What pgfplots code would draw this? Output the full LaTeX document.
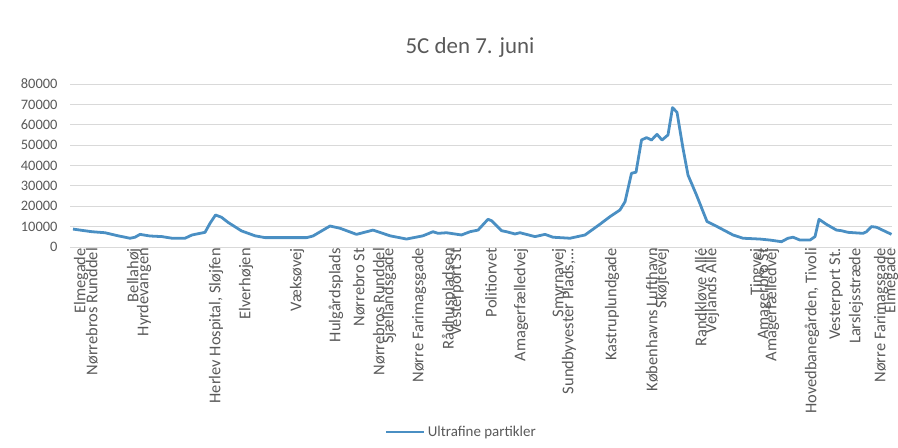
\documentclass[border=0pt]{standalone}
\usepackage{pgfplots}
\pgfplotsset{compat=1.18}
\usepackage{fontspec}
\setmainfont{Carlito}
\definecolor{linec}{HTML}{4A8FC3}
\definecolor{txt}{HTML}{595959}
\definecolor{gridc}{HTML}{D9D9D9}
\begin{document}
\begin{tikzpicture}
\path[use as bounding box] (0,0) rectangle (898bp,448bp);
\begin{axis}[
  at={(70bp,201bp)}, anchor=south west,
  scale only axis, width=822bp, height=163bp,
  xmin=70, xmax=892, ymin=0, ymax=80000,
  ytick={0,10000,20000,30000,40000,50000,60000,70000,80000},
  ymajorgrids, grid style={gridc, line width=0.8pt},
  axis line style={draw=none},
  major tick length=0pt,
  /pgf/number format/assume math mode=true,
  /pgf/number format/set thousands separator={},
  scaled y ticks=false,
  yticklabel style={font=\fontsize{14.5}{15}\selectfont, text=txt, xshift=-9bp},
  xtick={72,83,125,135,207,237,288,327,350,370,380,410,440,448,482,512,550,560,603,643,653,692,703,748,755,763,803,827,847,872,882},
  xticklabels={Elmegade,Nørrebros Runddel,Bellahøj,Hyrdevangen,{Herlev Hospital, Sløjfen},Elverhøjen,Væksøvej,Hulgårdsplads,Nørrebro St,Nørrebros Runddel,Sjællandsgade,Nørre Farimagsgade,Rådhuspladsen,Vesterport St,Politiorvet,Amagerfælledvej,Smyrnavej,{Sundbyvester Plads,.{}.{}.},Kastruplundgade,Københavns Lufthavn,Skøjtevej,Randkløve Allé,Vejlands Allé,Tingvej,Amagerbro St,Amagerfælledvej,{Hovedbanegården, Tivoli},Vesterport St.,Larslejsstræde,Nørre Farimagsgade,Elmegade},
  xticklabel style={font=\fontsize{16.5}{17}\selectfont, text=txt, rotate=90, anchor=east, inner sep=1bp, yshift=-9bp},
  legend style={at={(0.476,-1.135)}, anchor=center, draw=none, font=\fontsize{15}{16}\selectfont, text=txt, legend columns=1},
  legend cell align=left,
  legend image code/.code={\draw[#1, line width=2.8pt] (0cm,0cm) -- (1.35cm,0cm);},
  clip=false,
]
\addplot[color=linec, line width=2.8pt, line join=round] coordinates {
(73,8800)(80,8300)(92,7500)(105,7000)(118,5500)(130,4300)(135,4800)(140,6200)(150,5400)(162,5100)(172,4300)(185,4300)(192,5900)(205,7200)(210,11600)(215.5,15700)(221.5,14600)(228,12100)(241.5,7900)(255,5500)(265,4600)(275,4600)(306.5,4600)(313,5400)(322,8000)(330,10300)(340,9200)(356.5,6200)(373,8300)(390,5500)(406.5,3900)(423,5500)(433,7500)(438,6700)(446.5,7000)(461.5,5900)(470,7500)(478,8300)(488,13600)(491.5,12900)(501.5,8000)(506.5,7500)(515,6400)(520,7000)(535,5100)(545,6200)(553,4800)(570,4300)(585,5900)(600,11200)(610,14900)(620,18200)(625,22200)(631.5,36200)(636,36700)(641.5,52500)(646.5,53700)(651.5,52500)(657,55300)(662,52500)(668,55000)(672.5,68400)(677,66100)(683,48400)(688,35300)(696.5,25500)(707,12500)(716,10300)(733,5900)(743,4300)(760,3900)(770,3400)(781.5,2600)(788,4300)(793,4800)(800,3400)(810,3400)(815,5100)(819,13600)(826.5,11100)(836.5,8300)(841.5,8000)(848,7200)(863,6700)(866.5,7500)(871.5,10000)(876.5,9700)(891.5,6200)
};
\addlegendentry{Ultrafine partikler}
\end{axis}
\node[text=txt, font=\fontsize{23}{26}\selectfont] at (470bp,400bp) {5C den 7. juni};
\end{tikzpicture}
\end{document}
